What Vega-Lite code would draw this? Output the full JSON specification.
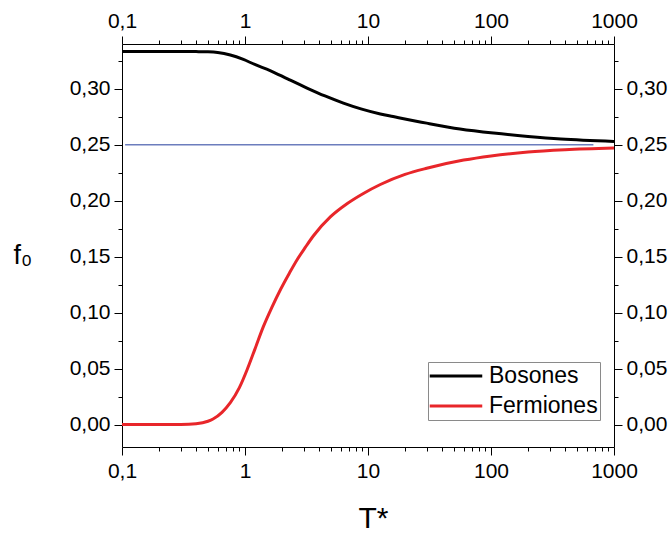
{
  "$schema": "https://vega.github.io/schema/vega-lite/v6.json",
  "width": 492,
  "height": 403,
  "autosize": "none",
  "padding": {"left": 122, "top": 44, "right": 58, "bottom": 86},
  "background": "white",
  "config": {
    "view": {"stroke": null},
    "axis": {
      "domainColor": "black",
      "domainWidth": 1,
      "tickColor": "black",
      "tickWidth": 1,
      "labelFont": "Liberation Sans",
      "labelFontSize": 21,
      "labelColor": "black",
      "titleFont": "Liberation Sans",
      "titleFontWeight": "normal",
      "titleColor": "black",
      "grid": false,
      "labelPadding": 4
    },
    "legend": {
      "orient": "none",
      "legendX": 306,
      "legendY": 318,
      "strokeColor": "#8a8a8a",
      "fillColor": "white",
      "padding": 2,
      "labelFont": "Liberation Sans",
      "labelFontSize": 23,
      "labelColor": "black",
      "symbolType": "M-2.5,0L2.5,0",
      "symbolStrokeWidth": 3,
      "symbolSize": 441,
      "symbolOffset": 14,
      "rowPadding": 6,
      "labelOffset": 21
    }
  },
  "datasets": {
    "ref": [
      {"T": 0.106, "f": 0.25},
      {"T": 680, "f": 0.25}
    ],
    "curves": [
      {"T": 0.1, "f": 0.3333, "s": "Bosones"},
      {"T": 0.2, "f": 0.3333, "s": "Bosones"},
      {"T": 0.3, "f": 0.3333, "s": "Bosones"},
      {"T": 0.4, "f": 0.3332, "s": "Bosones"},
      {"T": 0.5, "f": 0.333, "s": "Bosones"},
      {"T": 0.6, "f": 0.3324, "s": "Bosones"},
      {"T": 0.76, "f": 0.3302, "s": "Bosones"},
      {"T": 0.97, "f": 0.3262, "s": "Bosones"},
      {"T": 1.2, "f": 0.3217, "s": "Bosones"},
      {"T": 1.6, "f": 0.3163, "s": "Bosones"},
      {"T": 2.24, "f": 0.3086, "s": "Bosones"},
      {"T": 3.16, "f": 0.3009, "s": "Bosones"},
      {"T": 4.47, "f": 0.2936, "s": "Bosones"},
      {"T": 6.31, "f": 0.2872, "s": "Bosones"},
      {"T": 8.9, "f": 0.2818, "s": "Bosones"},
      {"T": 12.6, "f": 0.2775, "s": "Bosones"},
      {"T": 16, "f": 0.2752, "s": "Bosones"},
      {"T": 30, "f": 0.2693, "s": "Bosones"},
      {"T": 56, "f": 0.2641, "s": "Bosones"},
      {"T": 105, "f": 0.2604, "s": "Bosones"},
      {"T": 200, "f": 0.2574, "s": "Bosones"},
      {"T": 370, "f": 0.2551, "s": "Bosones"},
      {"T": 1000, "f": 0.253, "s": "Bosones"},
      {"T": 0.1, "f": 0.0, "s": "Fermiones"},
      {"T": 0.2, "f": 0.0, "s": "Fermiones"},
      {"T": 0.3, "f": 0.0001, "s": "Fermiones"},
      {"T": 0.4, "f": 0.0008, "s": "Fermiones"},
      {"T": 0.5, "f": 0.003, "s": "Fermiones"},
      {"T": 0.55, "f": 0.005, "s": "Fermiones"},
      {"T": 0.65, "f": 0.011, "s": "Fermiones"},
      {"T": 0.76, "f": 0.0196, "s": "Fermiones"},
      {"T": 0.9, "f": 0.033, "s": "Fermiones"},
      {"T": 1.04, "f": 0.049, "s": "Fermiones"},
      {"T": 1.2, "f": 0.067, "s": "Fermiones"},
      {"T": 1.41, "f": 0.0875, "s": "Fermiones"},
      {"T": 1.65, "f": 0.1045, "s": "Fermiones"},
      {"T": 1.94, "f": 0.1205, "s": "Fermiones"},
      {"T": 2.3, "f": 0.1355, "s": "Fermiones"},
      {"T": 2.66, "f": 0.1475, "s": "Fermiones"},
      {"T": 3.1, "f": 0.1585, "s": "Fermiones"},
      {"T": 3.59, "f": 0.1685, "s": "Fermiones"},
      {"T": 4.94, "f": 0.1855, "s": "Fermiones"},
      {"T": 6.79, "f": 0.1975, "s": "Fermiones"},
      {"T": 9.17, "f": 0.2065, "s": "Fermiones"},
      {"T": 12.6, "f": 0.2145, "s": "Fermiones"},
      {"T": 20, "f": 0.2235, "s": "Fermiones"},
      {"T": 30, "f": 0.229, "s": "Fermiones"},
      {"T": 60, "f": 0.2363, "s": "Fermiones"},
      {"T": 100, "f": 0.24, "s": "Fermiones"},
      {"T": 200, "f": 0.2435, "s": "Fermiones"},
      {"T": 400, "f": 0.2455, "s": "Fermiones"},
      {"T": 1000, "f": 0.247, "s": "Fermiones"}
    ]
  },
  "layer": [
    {
      "data": {"name": "ref"},
      "mark": {"type": "line", "color": "#6c7dbd", "strokeWidth": 1.5},
      "encoding": {
        "x": {
          "field": "T", "type": "quantitative",
          "scale": {"type": "log", "domain": [0.1, 1000], "nice": false},
          "axis": {
            "orient": "top", "title": null, "labelPadding": 5,
            "values": [0.1,0.2,0.3,0.4,0.5,0.6,0.7,0.8,0.9,1,2,3,4,5,6,7,8,9,10,20,30,40,50,60,70,80,90,100,200,300,400,500,600,700,800,900,1000],
            "labelExpr": "datum.value < 0.15 ? '0,1' : (indexof([1,10,100,1000], datum.value) >= 0 ? format(datum.value, 'd') : '')",
            "tickSize": {"condition": {"test": "indexof([0.1,1,10,100,1000], datum.value) >= 0", "value": 8}, "value": 4},
            "labelFlush": false,
            "labelOverlap": false
          }
        },
        "y": {
          "field": "f", "type": "quantitative",
          "scale": {"domain": [-0.02, 0.34], "nice": false, "zero": false},
          "axis": {
            "orient": "right", "title": null,
            "values": [0,0.025,0.05,0.075,0.1,0.125,0.15,0.175,0.2,0.225,0.25,0.275,0.3,0.325],
            "labelExpr": "abs(datum.value*20 - round(datum.value*20)) < 0.001 ? replace(format(datum.value, '.2f'), '.', ',') : ''",
            "tickSize": {"condition": {"test": "abs(datum.value*20 - round(datum.value*20)) < 0.001", "value": 8}, "value": 4},
            "labelOverlap": false,
            "labelFlush": false
          }
        }
      }
    },
    {
      "data": {"name": "curves"},
      "mark": {"type": "line", "strokeWidth": 3, "interpolate": "monotone"},
      "encoding": {
        "x": {
          "field": "T", "type": "quantitative",
          "scale": {"type": "log", "domain": [0.1, 1000], "nice": false},
          "axis": {
            "orient": "bottom", "title": "T*", "titleFontSize": 30,
            "titleX": 251, "titleY": 80, "titleBaseline": "alphabetic", "titleAlign": "center",
            "labelPadding": 5,
            "values": [0.1,0.2,0.3,0.4,0.5,0.6,0.7,0.8,0.9,1,2,3,4,5,6,7,8,9,10,20,30,40,50,60,70,80,90,100,200,300,400,500,600,700,800,900,1000],
            "labelExpr": "datum.value < 0.15 ? '0,1' : (indexof([1,10,100,1000], datum.value) >= 0 ? format(datum.value, 'd') : '')",
            "tickSize": {"condition": {"test": "indexof([0.1,1,10,100,1000], datum.value) >= 0", "value": 8}, "value": 4},
            "labelFlush": false,
            "labelOverlap": false
          }
        },
        "y": {
          "field": "f", "type": "quantitative",
          "scale": {"domain": [-0.02, 0.34], "nice": false, "zero": false},
          "axis": {
            "orient": "left", "title": "f₀", "titleFontSize": 27, "titleAngle": 0,
            "titleX": -109, "titleY": 219, "titleAlign": "left", "titleBaseline": "alphabetic",
            "values": [0,0.025,0.05,0.075,0.1,0.125,0.15,0.175,0.2,0.225,0.25,0.275,0.3,0.325],
            "labelExpr": "abs(datum.value*20 - round(datum.value*20)) < 0.001 ? replace(format(datum.value, '.2f'), '.', ',') : ''",
            "tickSize": {"condition": {"test": "abs(datum.value*20 - round(datum.value*20)) < 0.001", "value": 8}, "value": 4},
            "labelOverlap": false,
            "labelFlush": false
          }
        },
        "color": {
          "field": "s", "type": "nominal",
          "scale": {"domain": ["Bosones", "Fermiones"], "range": ["black", "#e8262a"]},
          "legend": {"title": null}
        }
      }
    }
  ],
  "resolve": {"axis": {"x": "independent", "y": "independent"}}
}
